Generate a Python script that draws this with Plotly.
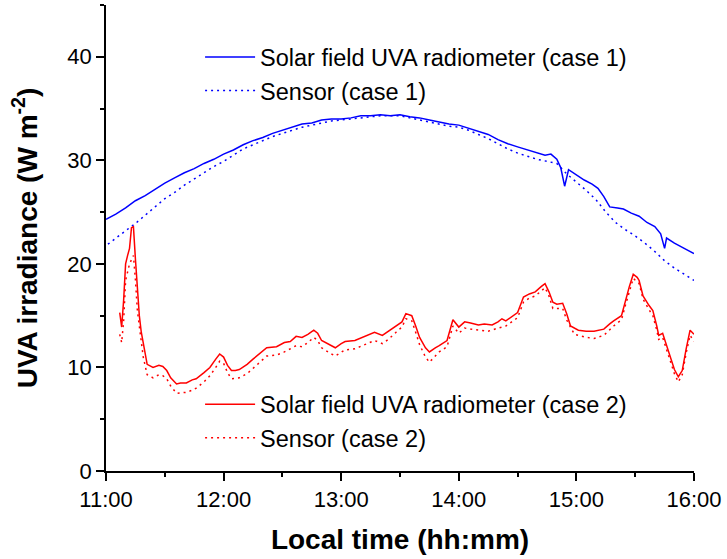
import pandas as pd
import plotly.graph_objects as go

DAY = "2020-01-01 "

# Case 1: solar field UVA radiometer
c1_ref_t = ["11:00","11:05","11:10","11:15","11:20","11:25","11:30","11:35","11:40","11:45",
            "11:50","11:55","12:00","12:05","12:10","12:15","12:20","12:25","12:30","12:35",
            "12:40","12:45","12:50","12:55","13:00","13:05","13:10","13:15","13:20","13:25",
            "13:30","13:35","13:40","13:45","13:50","13:55","14:00","14:05","14:10","14:15",
            "14:20","14:25","14:30","14:35","14:40","14:44","14:47","14:50","14:52","14:54",
            "14:56","15:00","15:04","15:08","15:11","15:14","15:17","15:21","15:24","15:28",
            "15:32","15:36","15:40","15:43","15:45","15:46","15:50","15:55","16:00"]
c1_ref_v = [24.3,24.8,25.4,26.1,26.6,27.2,27.8,28.3,28.8,29.2,
            29.7,30.1,30.6,31.0,31.5,31.9,32.2,32.6,32.9,33.2,
            33.5,33.6,33.9,34.0,34.0,34.1,34.3,34.3,34.4,34.3,
            34.4,34.2,34.1,33.9,33.7,33.5,33.4,33.1,32.8,32.5,
            32.0,31.6,31.3,31.0,30.7,30.5,30.6,30.1,29.3,27.5,
            29.1,28.6,28.1,27.7,27.3,26.5,25.5,25.4,25.3,24.9,
            24.6,24.0,23.6,22.9,21.5,22.5,22.0,21.5,21.0]

# Case 1: sensor
c1_sen_t = ["11:01","11:05","11:10","11:15","11:20","11:25","11:30","11:35","11:40","11:45",
            "11:50","11:55","12:00","12:05","12:10","12:15","12:20","12:25","12:30","12:35",
            "12:40","12:45","12:50","12:55","13:00","13:05","13:10","13:15","13:20","13:25",
            "13:30","13:35","13:40","13:45","13:50","13:55","14:00","14:05","14:10","14:15",
            "14:20","14:25","14:30","14:35","14:40","14:45","14:50","14:55","15:00","15:05",
            "15:10","15:15","15:20","15:25","15:30","15:35","15:40","15:45","15:50","15:55","16:00"]
c1_sen_v = [21.9,22.5,23.2,23.9,24.7,25.5,26.3,26.9,27.6,28.2,
            28.8,29.4,29.9,30.5,31.1,31.5,31.9,32.3,32.6,32.9,
            33.2,33.4,33.6,33.8,33.9,34.0,34.1,34.2,34.3,34.3,
            34.3,34.1,33.9,33.7,33.5,33.3,33.2,32.9,32.5,32.1,
            31.6,31.1,30.7,30.4,30.1,29.9,29.7,28.7,27.9,27.1,
            26.2,25.0,24.0,23.3,22.7,22.0,21.2,20.3,19.6,19.0,18.4]

# Case 2: solar field UVA radiometer
c2_ref_t = ["11:07","11:08","11:09","11:10","11:11","11:12","11:13","11:14","11:15","11:16",
            "11:17","11:18","11:19","11:20","11:21","11:24","11:27","11:29","11:31","11:33",
            "11:36","11:38","11:41","11:44","11:46","11:50","11:53","11:56","11:58","12:00",
            "12:02","12:04","12:06","12:08","12:12","12:15","12:19","12:22","12:27","12:31",
            "12:34","12:37","12:40","12:43","12:46","12:48","12:50","12:54","12:57","13:00",
            "13:02","13:07","13:12","13:17","13:21","13:24","13:28","13:31","13:33","13:36",
            "13:38","13:40","13:43","13:45","13:48","13:50","13:54","13:56","13:57","14:00",
            "14:03","14:06","14:10","14:13","14:17","14:20","14:22","14:24","14:27","14:30",
            "14:32","14:33","14:36","14:39","14:42","14:44","14:46","14:48","14:50","14:53",
            "14:55","14:57","15:01","15:05","15:09","15:14","15:17","15:19","15:23","15:25",
            "15:27","15:29","15:31","15:32","15:34","15:37","15:39","15:41","15:42","15:44",
            "15:46","15:48","15:50","15:52","15:54","15:56","15:58","16:00"]
c2_ref_v = [15.3,13.9,16.5,20.0,20.8,21.5,23.5,23.6,20.5,17.1,
            15.0,13.4,12.3,11.0,10.3,10.0,10.2,10.1,9.7,9.0,
            8.4,8.5,8.5,8.8,8.9,9.5,10.0,10.8,11.3,11.0,
            10.2,9.7,9.7,9.8,10.3,10.8,11.4,11.9,12.0,12.4,
            12.5,13.0,12.9,13.2,13.6,13.3,12.6,12.2,11.9,12.3,
            12.5,12.6,13.0,13.4,13.1,13.5,14.0,14.4,15.2,15.0,
            14.0,12.9,11.9,11.5,11.9,12.1,12.6,14.0,14.6,13.9,
            14.4,14.3,14.1,14.2,14.1,14.4,14.7,14.5,14.9,15.3,
            16.3,16.8,17.1,17.3,17.8,18.1,17.3,16.3,16.1,16.2,
            15.2,14.0,13.6,13.5,13.5,13.7,14.2,14.5,15.0,16.5,
            17.8,19.0,18.7,18.4,16.9,16.0,15.5,14.0,13.1,13.3,
            12.2,11.0,9.8,9.1,9.7,11.8,13.6,13.2]

# Case 2: sensor
c2_sen_t = ["11:07","11:08","11:09","11:10","11:12","11:13","11:14","11:15","11:16","11:18",
            "11:19","11:21","11:24","11:27","11:29","11:31","11:33","11:36","11:41","11:44",
            "11:46","11:50","11:53","11:56","11:58","12:00","12:02","12:04","12:08","12:12",
            "12:15","12:19","12:22","12:27","12:31","12:37","12:40","12:43","12:46","12:48",
            "12:50","12:54","12:57","13:02","13:07","13:12","13:17","13:21","13:24","13:28",
            "13:31","13:33","13:36","13:38","13:40","13:43","13:45","13:48","13:50","13:54",
            "13:56","13:57","14:00","14:03","14:06","14:10","14:15","14:20","14:24","14:27",
            "14:30","14:33","14:36","14:39","14:44","14:46","14:48","14:53","14:55","14:59",
            "15:05","15:09","15:14","15:19","15:23","15:25","15:27","15:29","15:32","15:34",
            "15:37","15:39","15:41","15:42","15:44","15:46","15:48","15:50","15:52","15:54",
            "15:56","15:58","16:00"]
c2_sen_v = [13.2,12.4,14.5,18.4,20.0,20.5,20.8,18.5,15.5,12.5,
            11.0,9.3,9.0,9.3,9.2,8.9,8.2,7.5,7.6,7.8,
            8.0,8.6,9.2,10.0,10.6,10.4,9.5,8.9,9.0,9.4,
            9.9,10.6,11.1,11.2,11.5,12.1,12.0,12.4,12.9,12.6,
            11.9,11.4,11.1,11.7,11.8,12.2,12.6,12.3,12.7,13.4,
            13.9,14.7,14.5,13.4,12.2,11.0,10.5,11.1,11.5,12.0,
            13.4,14.0,13.3,13.8,13.7,13.6,13.5,13.8,14.0,14.4,
            14.8,16.3,16.7,16.9,17.7,16.9,15.7,15.7,14.6,13.2,
            12.9,12.8,13.1,14.0,14.6,16.0,17.4,18.6,18.1,16.6,
            15.6,15.0,13.6,12.7,12.9,11.8,10.6,9.4,8.6,9.3,
            11.4,13.1,12.5]

names = ["Solar field UVA radiometer (case 1)", "Sensor (case 1)",
         "Solar field UVA radiometer (case 2)", "Sensor (case 2)"]

def ts(lst):
    return pd.to_datetime([DAY + t for t in lst])

BLUE = "#0000FF"
RED = "#FF0000"
DOT = "2px,4px"

fig = go.Figure()
fig.add_trace(go.Scatter(x=ts(c1_ref_t), y=c1_ref_v, mode="lines", name=names[0],
                         line=dict(color=BLUE, width=1.5), legend="legend"))
fig.add_trace(go.Scatter(x=ts(c1_sen_t), y=c1_sen_v, mode="lines", name=names[1],
                         line=dict(color=BLUE, width=1.5, dash=DOT), legend="legend"))
fig.add_trace(go.Scatter(x=ts(c2_ref_t), y=c2_ref_v, mode="lines", name=names[2],
                         line=dict(color=RED, width=1.5), legend="legend2"))
fig.add_trace(go.Scatter(x=ts(c2_sen_t), y=c2_sen_v, mode="lines", name=names[3],
                         line=dict(color=RED, width=1.5, dash=DOT), legend="legend2"))

FONT = "Liberation Sans, Arial, sans-serif"
legend_common = dict(font=dict(family=FONT, size=23.5, color="#000000"),
                     bgcolor="rgba(0,0,0,0)", borderwidth=0, itemwidth=50,
                     xanchor="left", yanchor="top", traceorder="normal")

fig.update_layout(
    width=727, height=559,
    margin=dict(l=106, r=30, t=5, b=88),
    paper_bgcolor="white", plot_bgcolor="white",
    font=dict(family=FONT, color="#000000"),
    showlegend=True,
    legend=dict(x=0.160, y=0.935, **legend_common),
    legend2=dict(x=0.160, y=0.19, **legend_common),
    xaxis=dict(
        type="date",
        range=[pd.Timestamp(DAY + "11:00"), pd.Timestamp(DAY + "16:00")],
        dtick=3600000, tick0=pd.Timestamp(DAY + "11:00"), tickformat="%H:%M",
        showgrid=False, zeroline=False, showline=True, linecolor="#000000", linewidth=1.5,
        ticks="outside", ticklen=8, tickwidth=1.5, tickcolor="#000000",
        minor=dict(dtick=1800000, ticks="outside", ticklen=4, tickwidth=1.5, tickcolor="#000000", showgrid=False),
        tickfont=dict(family=FONT, size=22, color="#000000"),
        title=dict(text="<b>Local time (hh:mm)</b>", font=dict(family=FONT, size=28, color="#000000"), standoff=18),
    ),
    yaxis=dict(
        range=[0, 45], dtick=10, tick0=0,
        showgrid=False, zeroline=False, showline=True, linecolor="#000000", linewidth=1.5,
        ticks="outside", ticklen=8, tickwidth=1.5, tickcolor="#000000",
        minor=dict(dtick=5, ticks="outside", ticklen=4, tickwidth=1.5, tickcolor="#000000", showgrid=False),
        tickfont=dict(family=FONT, size=22, color="#000000"),
        title=dict(text="<b>UVA irradiance (W m<sup>-2</sup>)</b>", font=dict(family=FONT, size=28, color="#000000"), standoff=22),
    ),
)

fig.write_html("out.html")
